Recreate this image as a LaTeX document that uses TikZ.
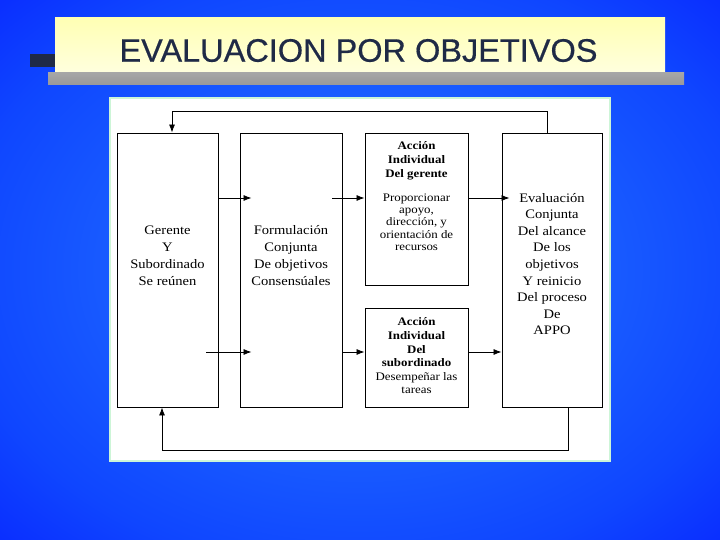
\documentclass[tikz,border=0pt]{standalone}
\usepackage{fontspec}
\setmainfont{Liberation Serif}
\newfontfamily\titlefont[FakeBold=0.5]{Liberation Sans}
\newfontfamily\boxfont[FakeStretch=1.12]{Liberation Serif}
\usetikzlibrary{arrows.meta}
\definecolor{bgin}{RGB}{40,125,255}
\definecolor{bgmid}{RGB}{15,70,255}
\definecolor{bgout}{RGB}{0,0,255}
\definecolor{navy}{RGB}{31,42,70}
\definecolor{banner}{RGB}{255,255,180}
\definecolor{bannerlow}{RGB}{255,255,222}
\definecolor{rim}{RGB}{205,245,215}
\pgfdeclareradialshading{bgshade}{\pgfpoint{0bp}{0bp}}{color(0bp)=(bgin); color(28bp)=(bgmid); color(50bp)=(bgout)}
\tikzset{
	box/.style={draw, line width=0.9pt, fill=white, inner sep=0pt},
	boxtext/.style={font=\boxfont\fontsize{13}{17}\selectfont, align=center, inner sep=0pt},
	arr/.style={-{Latex[length=8pt,width=6pt]}, line width=0.8pt}
}
\begin{document}
\begin{tikzpicture}[x=1pt,y=-1pt]
		\useasboundingbox (0,0) rectangle (720,540);
		\shade[shading=bgshade] (0,0) rectangle (720,540);
		% title banner
		\fill[navy] (30,54) rectangle (60,67);
		\shade[top color=banner, bottom color=bannerlow] (55,18) rectangle (665,73);
		\shade[top color=gray!70, middle color=gray!15, bottom color=gray!80] (48,73) rectangle (684,85);
		\node[font=\titlefont\fontsize{32.5}{36}\selectfont, text=navy, anchor=base] (title) at (358.5,61.7) {EVALUACION POR OBJETIVOS};
		% panel
		\draw[rim, line width=1.5pt, fill=white] (110,98) rectangle (610,461);
		\node[box, minimum width=101, minimum height=274] (ger) at (167.5,270) {};
		\node[box, minimum width=102, minimum height=274] (form) at (291,270) {};
		\node[box, minimum width=103, minimum height=152] (accger) at (416.5,209) {};
		\node[box, minimum width=103, minimum height=99] (accsub) at (416.5,357.5) {};
		\node[box, minimum width=100, minimum height=274] (eval) at (552,270) {};
		\node[boxtext] (gertxt) at (167.5,256) {Gerente\\Y\\Subordinado\\Se reúnen};
		\node[boxtext] (formtxt) at (291,256) {Formulación\\Conjunta\\De objetivos\\Consensúales};
		\node[boxtext, font=\boxfont\fontsize{13}{16.6}\selectfont] (evaltxt) at (552,264) {Evaluación\\Conjunta\\Del alcance\\De los\\objetivos\\Y reinicio\\Del proceso\\De\\APPO};
		\node[boxtext, font=\boxfont\bfseries\fontsize{11.5}{14}\selectfont] (accgerhd) at (416.5,161) {Acción\\Individual\\Del gerente};
		\node[boxtext, font=\boxfont\fontsize{11.5}{12.3}\selectfont] (accgertxt) at (416.5,222) {Proporcionar\\apoyo,\\dirección, y\\orientación de\\recursos};
		\node[boxtext, font=\boxfont\fontsize{11.5}{13.6}\selectfont] (accsubtxt) at (416.5,356) {\textbf{Acción}\\\textbf{Individual}\\\textbf{Del}\\\textbf{subordinado}\\Desempeñar las\\tareas};
		% connectors
		\coordinate (ya) at (0,198);
		\coordinate (yb) at (0,352);
		\draw[arr] (ger.east |- ya) -- ([xshift=12pt]form.west |- ya);
		\draw[arr] ([xshift=-12pt]ger.east |- yb) -- ([xshift=12pt]form.west |- yb);
		\draw[arr] ([xshift=-10pt]form.east |- ya) -- (accger.west |- ya);
		\draw[arr] (form.east |- yb) -- (accsub.west |- yb);
		\draw[arr] (accger.east |- ya) -- ([xshift=8pt]eval.west |- ya);
		\draw[arr] (accsub.east |- yb) -- (eval.west |- yb);
		\draw[arr] ([xshift=-5pt]eval.north) -- ++(0,-21) -| ([xshift=4.5pt]ger.north);
		\draw[arr] ([xshift=16pt]eval.south) -- ++(0,43) -| ([xshift=-5.5pt]ger.south);
	\end{tikzpicture}
\end{document}
